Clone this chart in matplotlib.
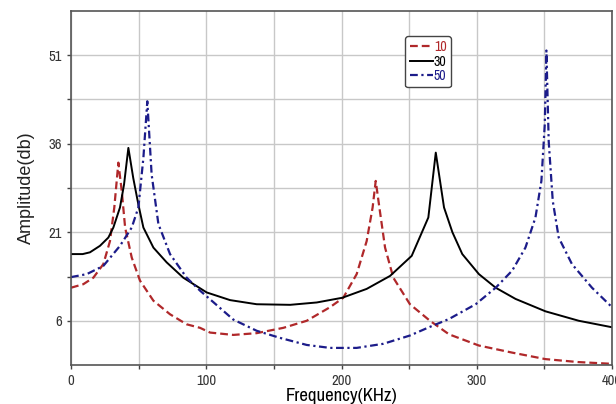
import matplotlib
matplotlib.use("Agg")
import matplotlib.pyplot as plt
from matplotlib import font_manager

# readings, frequency in KHz, amplitude in db
x_10 = [0, 9.1, 16.5, 23.9, 28.8, 32, 35, 37.5, 40, 44.9, 51, 60.9, 73.2,
        85.5, 95.4, 102.8, 120, 137.3, 157, 174.3, 191.5, 201.3, 211.2, 218.6,
        223, 225.3, 228, 232.2, 238.3, 250.6, 265.4, 279.5, 301.6, 326.2,
        350.8, 375, 400]
y_10 = [11.6, 12.2, 13.3, 15.6, 19.5, 25.2, 32.8, 28, 21.8, 16.7, 12.8, 9.4,
        7.1, 5.4, 4.8, 4.0, 3.6, 3.9, 4.8, 6, 8.3, 9.9, 13.9, 19.5, 25.2, 29.7,
        25.2, 18.4, 13.3, 8.8, 6, 3.7, 1.8, 0.6, -0.5, -1.0, -1.3]

x_30 = [0, 8.6, 14, 21.4, 27.6, 31.3, 36.2, 39.2, 42.4, 46, 49.8, 53.5, 60.9,
        70.7, 83, 100.3, 117.6, 137.3, 162, 181.7, 200.6, 218.6, 235.9, 251.9,
        264.2, 269.7, 275.8, 282, 289.3, 301.6, 314, 328.7, 350.8, 375.4, 400]
y_30 = [17.3, 17.3, 17.6, 18.7, 20.1, 21.8, 25.2, 29.1, 35.3, 30.2, 25.7,
        21.8, 18.4, 15.9, 13.3, 10.8, 9.5, 8.8, 8.7, 9.1, 9.9, 11.4, 13.6, 17,
        23.5, 34.5, 25.2, 21, 17.3, 13.9, 11.6, 9.7, 7.6, 6, 4.9]

x_50 = [0, 11.6, 23.9, 36.2, 44.9, 49.8, 53.5, 56.4, 59.6, 64.6, 73.2, 85.5,
        95.4, 105, 120, 137.3, 154.5, 174.3, 191.5, 211.2, 231, 250.6, 264.7,
        279.5, 299.2, 314, 326.2, 336, 343.4, 347.8, 350.3, 351.5, 353.2,
        356.2, 360.6, 370.4, 385.2, 400]
y_50 = [13.4, 13.9, 15.3, 18.7, 21.8, 25.2, 33.6, 43.2, 30.8, 22.4, 17.3,
        13.3, 11.1, 9.2, 6.2, 4.3, 3.1, 1.9, 1.4, 1.4, 2.1, 3.5, 4.9, 6.3, 8.8,
        11.6, 14.5, 18.4, 23.5, 29.7, 39.3, 51.8, 36.4, 26.3, 20.1, 15.6, 11.6,
        8.3]

x_ticks = [0, 100, 200, 300, 400]
y_ticks = [6, 21, 36, 51]


def pick_narrow():
    for f in font_manager.fontManager.ttflist:
        if "Narrow" in f.name or "Condensed" in f.name:
            return {"family": f.name}
    for f in font_manager.fontManager.ttflist:
        if "condensed" in str(f.stretch):
            return {"family": f.name, "stretch": f.stretch}
    return {"family": "Liberation Sans"}


narrow = pick_narrow()


def plot_amplitude():
    fig = plt.figure(figsize=(6.16, 4.04), dpi=100)
    ax = fig.add_axes([0.1153, 0.0965, 0.8782, 0.8763])

    ax.plot(x_10, y_10, color="#b0282a", lw=1.6, dashes=(3.5, 1.8), label="10")
    ax.plot(x_30, y_30, color="black", lw=1.4, label="30")
    ax.plot(x_50, y_50, color="#1c1c8a", lw=1.6, dashes=(3.5, 1.6, 1, 1.6),
            label="50")

    ax.set_xlim(0, 400)
    ax.set_ylim(-1.5, 58.5)
    ax.set_xticks(range(0, 401, 50), minor=True)
    ax.set_xticks(x_ticks)
    ax.set_yticks([13.5, 28.5, 43.5], minor=True)
    ax.set_yticks(y_ticks)
    ax.grid(True, which="both", color="#c8c8c8", lw=1)
    ax.set_axisbelow(True)
    ax.tick_params(which="both", length=3, width=1, color="#444444",
                   labelsize=10.5, labelcolor="#333333")
    for lab in ax.get_xticklabels() + ax.get_yticklabels():
        lab.set(**narrow)

    for sp in ax.spines.values():
        sp.set_color("#555555")
        sp.set_linewidth(1.2)

    ax.set_xlabel("Frequency(KHz)", fontsize=13.5, labelpad=0, **narrow)
    ax.set_ylabel("Amplitude(db)", fontsize=13, family="Liberation Sans",
                  color="#222222", labelpad=10)

    leg = ax.legend(loc="upper left", bbox_to_anchor=(0.618, 0.93),
                    handlelength=1.7, handletextpad=0.05, borderpad=0.3,
                    labelspacing=0.05, fancybox=True, framealpha=1,
                    edgecolor="#444444", borderaxespad=0,
                    prop=dict(size=10, **narrow))
    for text, line in zip(leg.get_texts(), leg.get_lines()):
        text.set_color(line.get_color())

    fig.savefig("out.png", dpi=100)


def main():
    plot_amplitude()


if __name__ == "__main__":
    main()
